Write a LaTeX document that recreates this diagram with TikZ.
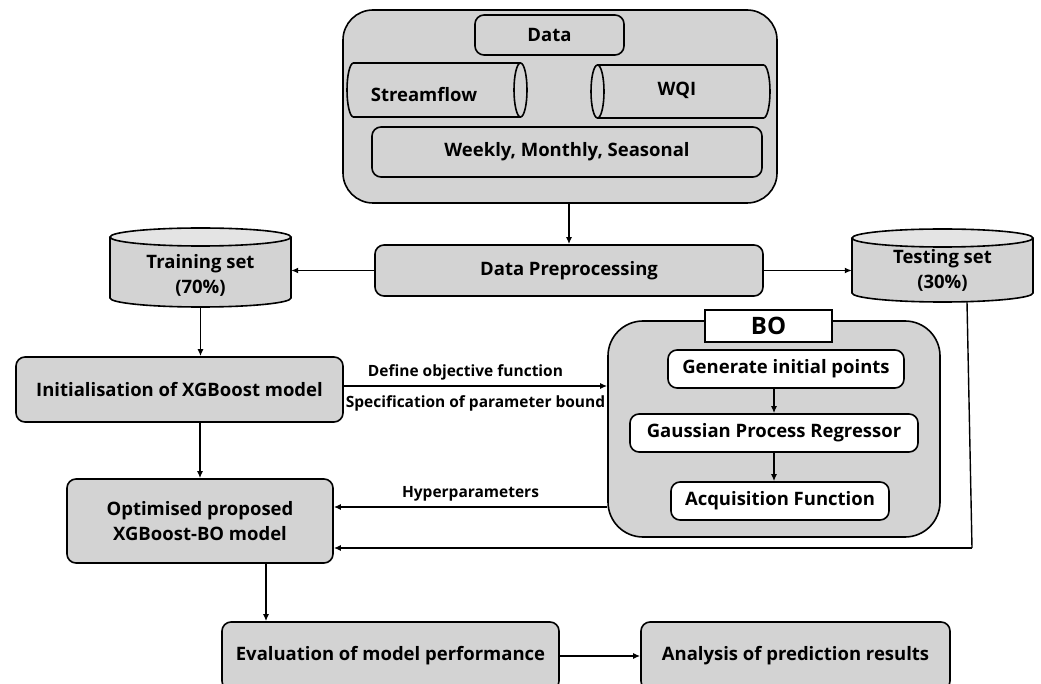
\documentclass[tikz,border=0pt]{standalone}
\usepackage{fontspec}
\setmainfont{Open Sans}
\usetikzlibrary{arrows.meta}
\definecolor{boxgray}{RGB}{211,211,211}
\definecolor{topgray}{RGB}{228,228,228}
\begin{document}
\begin{tikzpicture}[x=1pt,y=-1pt,
  box/.style={draw, line width=1.6pt, fill=boxgray, rounded corners=9pt, inner sep=0pt,
    font=\bfseries\fontsize{18.5}{25}\selectfont, align=center},
  wbox/.style={box, fill=white},
  txt/.style={inner sep=0pt, font=\bfseries\fontsize{18.5}{25}\selectfont, align=center},
  lbl/.style={inner sep=0pt, font=\bfseries\fontsize{15.5}{17}\selectfont},
  arr/.style={line width=1.4pt, -{Latex[length=7pt,width=6pt]}},
  cyl/.style={line width=1.6pt},
]
\useasboundingbox (0,0) rectangle (1041,684);
\fill[white] (0,0) rectangle (1041,684);

% Data group
\node[box, rounded corners=30pt, minimum width=434pt, minimum height=193pt] (outer) at (560,106.5) {};
\node[box, minimum width=149pt, minimum height=40pt] (data) at (549.5,35) {Data};
% Streamflow cylinder
\fill[boxgray] (520.5,63) -- (353.5,63) arc[start angle=90,end angle=270,x radius=6.5pt,y radius=27pt] -- (520.5,117) -- cycle;
\draw[cyl] (520.5,63) -- (353.5,63) arc[start angle=90,end angle=270,x radius=6.5pt,y radius=27pt] -- (520.5,117);
\filldraw[cyl, fill=boxgray] (520.5,90) ellipse[x radius=6.5pt, y radius=27pt];
\node[txt] (sf) at (424,95) {Streamflow};
% WQI cylinder
\fill[boxgray] (597.5,65) -- (763.5,65) arc[start angle=90,end angle=-90,x radius=6.5pt,y radius=26.5pt] -- (597.5,118) -- cycle;
\draw[cyl] (597.5,65) -- (763.5,65) arc[start angle=90,end angle=-90,x radius=6.5pt,y radius=26.5pt] -- (597.5,118);
\filldraw[cyl, fill=boxgray] (597.5,91.5) ellipse[x radius=6.5pt, y radius=26.5pt];
\node[txt] (wqi) at (677,90) {WQI};
\node[box, minimum width=390pt, minimum height=50pt] (weekly) at (567,152) {Weekly, Monthly, Seasonal};

% Data preprocessing
\node[box, minimum width=388pt, minimum height=51pt] (dp) at (569,270.5) {Data Preprocessing};

% Training set cylinder
\fill[boxgray] (110,237) -- (110,298) arc[start angle=180,end angle=360,x radius=90.5pt,y radius=9pt] -- (291,237) -- cycle;
\draw[cyl] (110,237) -- (110,298) arc[start angle=180,end angle=360,x radius=90.5pt,y radius=9pt] -- (291,237);
\filldraw[cyl, fill=topgray] (200.5,237) ellipse[x radius=90.5pt, y radius=9pt];
\node[inner sep=0pt, minimum width=181pt, minimum height=79pt] (train) at (200.5,267.5) {};
\node[txt] (traintxt) at (200.5,275) {Training set\\(70\%)};

% Testing set cylinder
\fill[boxgray] (852,238) -- (852,293) arc[start angle=180,end angle=360,x radius=90.5pt,y radius=9pt] -- (1033,238) -- cycle;
\draw[cyl] (852,238) -- (852,293) arc[start angle=180,end angle=360,x radius=90.5pt,y radius=9pt] -- (1033,238);
\filldraw[cyl, fill=topgray] (942.5,238) ellipse[x radius=90.5pt, y radius=9pt];
\node[inner sep=0pt, minimum width=181pt, minimum height=73pt] (test) at (942.5,265.5) {};
\node[txt] (testtxt) at (942.5,270) {Testing set\\(30\%)};

% Model boxes
\node[box, minimum width=327pt, minimum height=65pt] (init) at (179.5,389.5) {Initialisation of XGBoost model};
\node[box, minimum width=266pt, minimum height=84pt] (opt) at (200,521) {Optimised proposed\\XGBoost-BO model};

% BO
\node[box, rounded corners=35pt, minimum width=332pt, minimum height=216pt] (bo) at (774,429) {};
\node[wbox, rounded corners=0pt, minimum width=127pt, minimum height=32pt, font=\bfseries\fontsize{24}{26}\selectfont] (bolbl) at (768.5,326) {BO};
\node[wbox, minimum width=236pt, minimum height=38pt] (gen) at (786,369) {Generate initial points};
\node[wbox, minimum width=288pt, minimum height=38pt] (gpr) at (774,433) {Gaussian Process Regressor};
\node[wbox, minimum width=218pt, minimum height=38pt] (acq) at (780,501) {Acquisition Function};

% Bottom
\node[box, minimum width=337pt, minimum height=68pt] (eval) at (390.5,656) {Evaluation of model performance};
\node[box, minimum width=309pt, minimum height=68pt] (ana) at (795.5,656) {Analysis of prediction results};

% Connectors
\draw[arr] (outer.south -| dp.north) -- (dp.north);
\draw[arr] (dp.west) -- (dp.west -| train.east);
\draw[arr] (dp.east) -- (dp.east -| test.west);
\draw[arr] (train.south) -- (train.south |- init.north);
\draw[arr] (init.east |- 0,386) -- (bo.west |- 0,386)
  node[lbl, midway, above=5pt, xshift=-10pt] (defl) {Define objective function}
  node[lbl, midway, below=9pt] (specl) {Specification of parameter bound};
\draw[arr] (opt.north |- init.south) -- (opt.north);
\draw[arr] (bo.west |- 0,507) -- (opt.east |- 0,507)
  node[lbl, midway, above=5pt] (hypl) {Hyperparameters};
\draw[arr] (gpr.north |- gen.south) -- (gpr.north);
\draw[arr] (gpr.south) -- (gpr.south |- acq.north);
\coordinate (tx) at (967,0);
\coordinate (tc) at (972,548);
\draw[line width=1.4pt] (test.south -| tx) -- (tc);
\draw[arr] (tc) -- (opt.east |- tc);
\coordinate (ex) at (266,600);
\draw[arr] (opt.south -| ex) -- (eval.north -| ex);
\draw[arr] (eval.east) -- (ana.west);
\end{tikzpicture}
\end{document}
